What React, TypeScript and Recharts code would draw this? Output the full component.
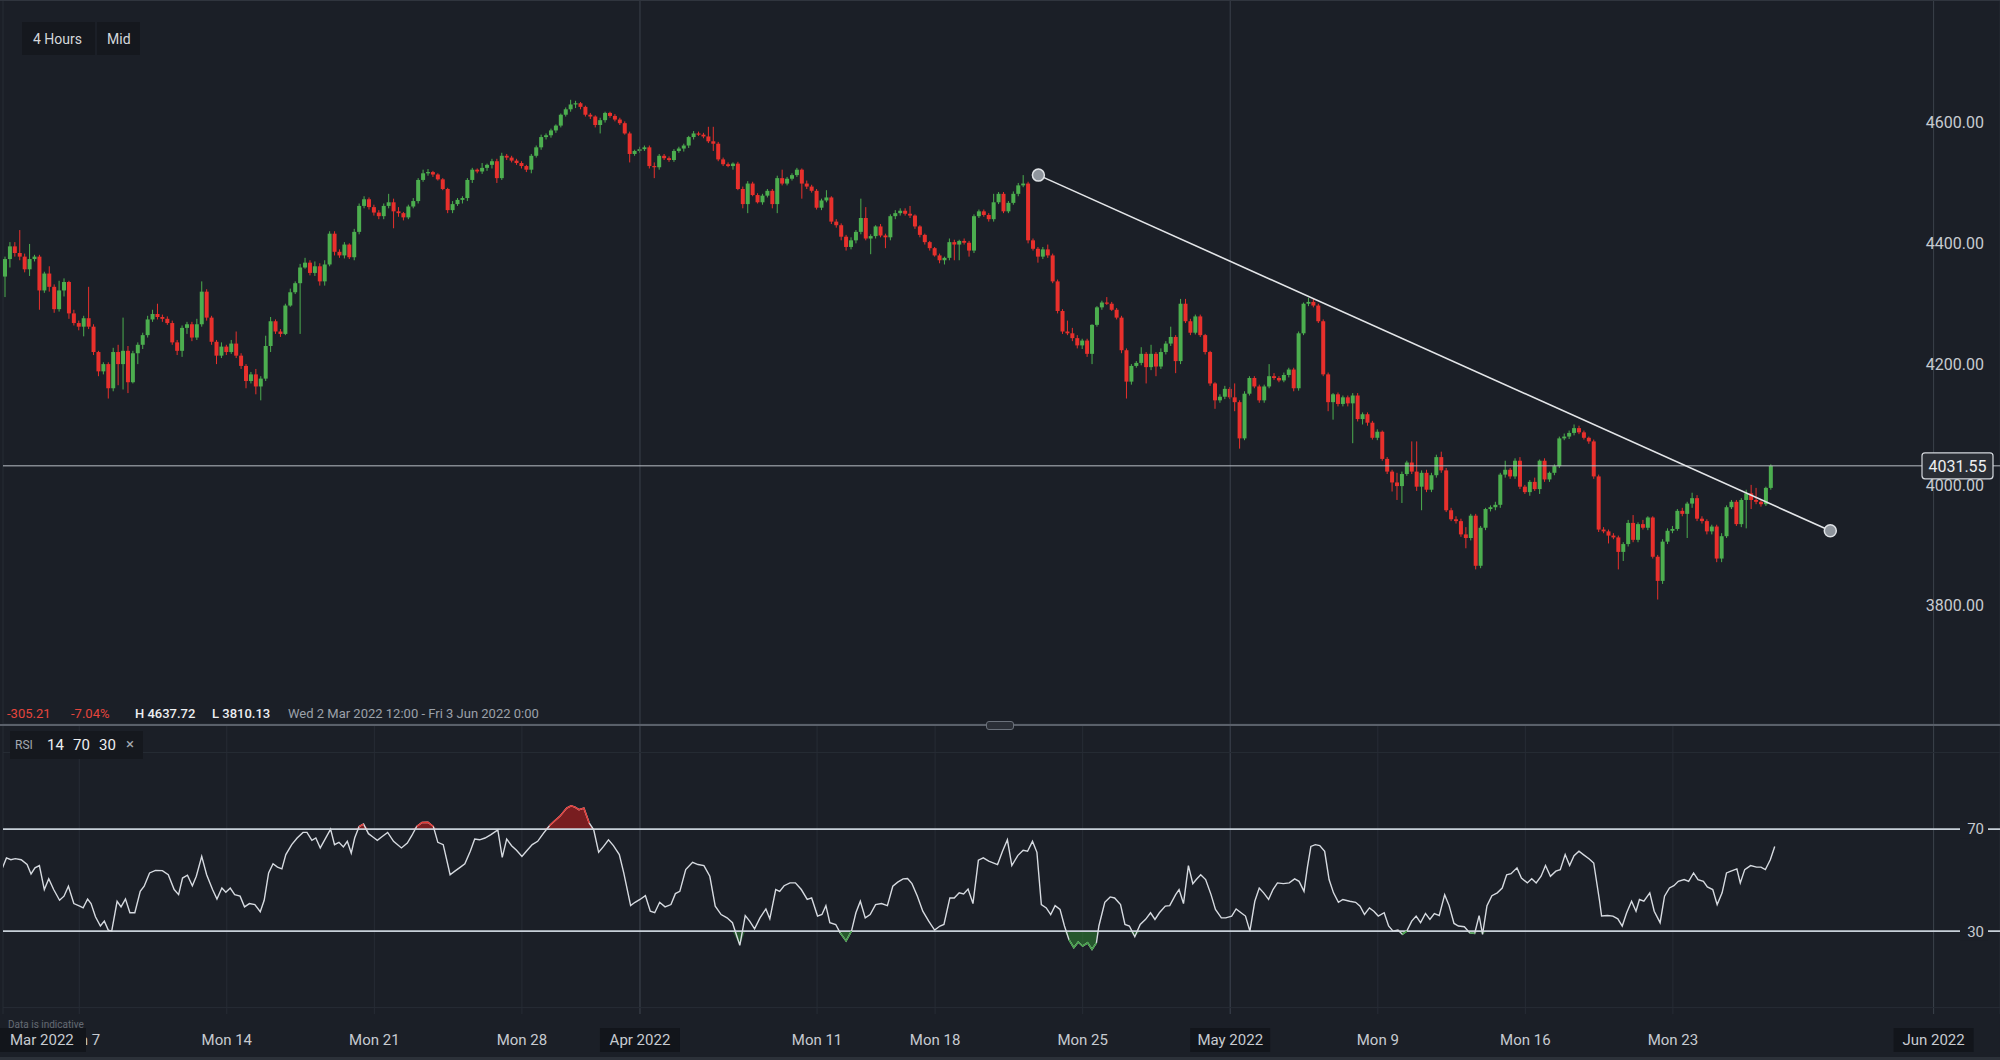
import React from 'react';
import {
  ComposedChart,
  Bar,
  Line,
  Area,
  XAxis,
  YAxis,
  CartesianGrid,
  ReferenceLine,
  ReferenceDot,
} from 'recharts';

const BG = '#1b1f27';
const GRID = '#272c35';
const MONTH_GRID = '#3b414b';
const UP = '#4cae4f';
const DOWN = '#e8302c';
const TEXT = '#c7cbd1';
const FONT = 'Roboto, "Noto Sans", Arial, sans-serif';

// 4 hour candles, [open, high, low, close]
// Wed 2 Mar -> Thu 24 Mar
const marchCandles = [
  [4345, 4378, 4311, 4374], [4374, 4402, 4360, 4395], [4395, 4402, 4378, 4384], [4384, 4422, 4372, 4378], [4378, 4383, 4352, 4357],
  [4357, 4399, 4346, 4374], [4374, 4381, 4370, 4378], [4378, 4381, 4290, 4322], [4322, 4353, 4318, 4350], [4350, 4362, 4320, 4328],
  [4328, 4332, 4285, 4291], [4291, 4338, 4287, 4322], [4322, 4342, 4312, 4336], [4336, 4338, 4275, 4284], [4284, 4290, 4264, 4268],
  [4268, 4272, 4256, 4262], [4262, 4280, 4246, 4276], [4276, 4328, 4258, 4262], [4262, 4266, 4215, 4220], [4220, 4222, 4180, 4188],
  [4188, 4203, 4183, 4200], [4200, 4203, 4143, 4160], [4160, 4227, 4155, 4220], [4220, 4232, 4165, 4200], [4200, 4277, 4158, 4222],
  [4222, 4230, 4152, 4170], [4170, 4222, 4168, 4218], [4218, 4236, 4200, 4232], [4232, 4252, 4225, 4248], [4248, 4280, 4244, 4274],
  [4274, 4290, 4270, 4283], [4283, 4300, 4274, 4278], [4278, 4282, 4270, 4275], [4275, 4279, 4265, 4268], [4268, 4272, 4232, 4236],
  [4236, 4240, 4215, 4222], [4222, 4264, 4212, 4260], [4260, 4270, 4250, 4266], [4266, 4270, 4238, 4244], [4244, 4275, 4240, 4266],
  [4266, 4337, 4262, 4320], [4320, 4324, 4272, 4277], [4277, 4280, 4232, 4237], [4237, 4240, 4200, 4214], [4214, 4236, 4210, 4229],
  [4229, 4232, 4215, 4220], [4220, 4240, 4217, 4234], [4234, 4254, 4210, 4214], [4214, 4218, 4192, 4197], [4197, 4200, 4160, 4172],
  [4172, 4187, 4168, 4183], [4183, 4192, 4150, 4163], [4163, 4180, 4140, 4176], [4176, 4247, 4172, 4230], [4230, 4278, 4220, 4271],
  [4271, 4274, 4250, 4254], [4254, 4258, 4245, 4250], [4250, 4300, 4248, 4297], [4297, 4325, 4295, 4319], [4319, 4337, 4316, 4334],
  [4334, 4366, 4250, 4360], [4360, 4376, 4358, 4368], [4368, 4372, 4347, 4351], [4351, 4370, 4346, 4362], [4362, 4367, 4330, 4337],
  [4337, 4372, 4330, 4365], [4365, 4420, 4362, 4416], [4416, 4420, 4380, 4386], [4386, 4390, 4376, 4380], [4380, 4402, 4375, 4398],
  [4398, 4400, 4374, 4377], [4377, 4424, 4372, 4419], [4419, 4466, 4415, 4462], [4462, 4478, 4458, 4473], [4473, 4476, 4456, 4460],
  [4460, 4464, 4446, 4451], [4451, 4455, 4440, 4445], [4445, 4466, 4440, 4462], [4462, 4482, 4458, 4468], [4468, 4474, 4425, 4453],
  [4453, 4460, 4444, 4450], [4450, 4452, 4438, 4443], [4443, 4464, 4440, 4461], [4461, 4475, 4458, 4470], [4470, 4508, 4466, 4505],
  [4505, 4522, 4502, 4516], [4516, 4523, 4512, 4518], [4518, 4520, 4510, 4514], [4514, 4516, 4504, 4506], [4506, 4508, 4488, 4490],
];

// Thu 24 Mar -> Mon 18 Apr
const aprilCandles = [
  [4490, 4492, 4450, 4455], [4455, 4470, 4450, 4465], [4465, 4475, 4462, 4472], [4472, 4478, 4466, 4475], [4475, 4508, 4470, 4505],
  [4505, 4525, 4500, 4522], [4522, 4524, 4516, 4519], [4519, 4533, 4515, 4525], [4525, 4532, 4520, 4530], [4530, 4540, 4524, 4536],
  [4536, 4540, 4500, 4508], [4508, 4550, 4505, 4545], [4545, 4548, 4538, 4542], [4542, 4545, 4534, 4537], [4537, 4540, 4530, 4533],
  [4533, 4536, 4524, 4528], [4528, 4530, 4518, 4522], [4522, 4548, 4516, 4545], [4545, 4562, 4542, 4559], [4559, 4580, 4555, 4576],
  [4576, 4582, 4572, 4579], [4579, 4590, 4575, 4587], [4587, 4597, 4583, 4595], [4595, 4615, 4592, 4613], [4613, 4625, 4610, 4622],
  [4622, 4637.72, 4618, 4630], [4630, 4636, 4624, 4632], [4632, 4634, 4622, 4626], [4626, 4628, 4610, 4613], [4613, 4616, 4606, 4610],
  [4610, 4612, 4592, 4596], [4596, 4608, 4582, 4604], [4604, 4618, 4600, 4616], [4616, 4618, 4608, 4611], [4611, 4614, 4602, 4605],
  [4605, 4608, 4596, 4599], [4599, 4602, 4580, 4582], [4582, 4585, 4534, 4548], [4548, 4555, 4545, 4553], [4553, 4560, 4550, 4556],
  [4556, 4562, 4553, 4559], [4559, 4562, 4524, 4528], [4528, 4534, 4508, 4526], [4526, 4548, 4522, 4545], [4545, 4548, 4538, 4541],
  [4541, 4544, 4535, 4538], [4538, 4556, 4535, 4553], [4553, 4560, 4550, 4557], [4557, 4565, 4552, 4562], [4562, 4578, 4558, 4576],
  [4576, 4586, 4572, 4582], [4582, 4585, 4578, 4580], [4580, 4583, 4574, 4577], [4577, 4593, 4566, 4569], [4569, 4593, 4553, 4565],
  [4565, 4568, 4536, 4539], [4539, 4542, 4528, 4531], [4531, 4534, 4526, 4528], [4528, 4534, 4522, 4532], [4532, 4535, 4488, 4490],
  [4490, 4494, 4458, 4465], [4465, 4503, 4450, 4499], [4499, 4502, 4478, 4480], [4480, 4483, 4466, 4468], [4468, 4482, 4464, 4479],
  [4479, 4490, 4476, 4487], [4487, 4490, 4458, 4465], [4465, 4512, 4450, 4508], [4508, 4522, 4496, 4499], [4499, 4510, 4496, 4507],
  [4507, 4516, 4504, 4513], [4513, 4525, 4510, 4522], [4522, 4524, 4474, 4499], [4499, 4504, 4490, 4494], [4494, 4497, 4484, 4487],
  [4487, 4490, 4456, 4459], [4459, 4474, 4455, 4471], [4471, 4488, 4468, 4476], [4476, 4478, 4432, 4436], [4436, 4440, 4426, 4430],
  [4430, 4433, 4405, 4411], [4411, 4414, 4388, 4394], [4394, 4410, 4390, 4405], [4405, 4422, 4400, 4419], [4419, 4474, 4415, 4442],
  [4442, 4460, 4405, 4408], [4408, 4415, 4382, 4412], [4412, 4430, 4408, 4428], [4428, 4432, 4410, 4413], [4413, 4416, 4392, 4410],
  [4410, 4448, 4405, 4445],
];

// Mon 18 Apr -> Mon 9 May
const aprMayCandles = [
  [4445, 4455, 4440, 4450], [4450, 4458, 4446, 4454], [4454, 4458, 4446, 4449], [4449, 4462, 4442, 4446], [4446, 4448, 4424, 4428],
  [4428, 4430, 4410, 4414], [4414, 4416, 4398, 4402], [4402, 4404, 4388, 4392], [4392, 4394, 4378, 4380], [4380, 4383, 4367, 4372],
  [4372, 4378, 4365, 4376], [4376, 4408, 4372, 4402], [4402, 4406, 4372, 4398], [4398, 4406, 4372, 4404], [4404, 4408, 4398, 4401],
  [4401, 4404, 4378, 4388], [4388, 4448, 4384, 4445], [4445, 4456, 4442, 4453], [4453, 4456, 4444, 4447], [4447, 4450, 4436, 4440],
  [4440, 4482, 4436, 4468], [4468, 4485, 4465, 4482], [4482, 4485, 4450, 4453], [4453, 4470, 4450, 4467], [4467, 4486, 4464, 4482],
  [4482, 4500, 4478, 4496], [4496, 4513, 4493, 4499], [4499, 4502, 4400, 4405], [4405, 4408, 4388, 4391], [4391, 4394, 4368, 4378],
  [4378, 4394, 4374, 4390], [4390, 4398, 4376, 4380], [4380, 4383, 4334, 4337], [4337, 4340, 4284, 4288], [4288, 4291, 4250, 4254],
  [4254, 4272, 4248, 4251], [4251, 4260, 4238, 4243], [4243, 4248, 4226, 4231], [4231, 4242, 4225, 4239], [4239, 4242, 4212, 4217],
  [4217, 4266, 4200, 4265], [4265, 4296, 4262, 4294], [4294, 4305, 4290, 4302], [4302, 4311, 4298, 4300], [4300, 4303, 4288, 4290],
  [4290, 4293, 4274, 4277], [4277, 4280, 4218, 4223], [4223, 4226, 4143, 4171], [4171, 4200, 4166, 4197], [4197, 4205, 4194, 4202],
  [4202, 4228, 4198, 4217], [4217, 4220, 4168, 4195], [4195, 4232, 4190, 4217], [4217, 4220, 4180, 4196], [4196, 4226, 4192, 4220],
  [4220, 4238, 4216, 4234], [4234, 4262, 4230, 4245], [4245, 4248, 4185, 4205], [4205, 4308, 4200, 4300], [4300, 4308, 4268, 4271],
  [4271, 4275, 4248, 4252], [4252, 4282, 4249, 4279], [4279, 4282, 4245, 4248], [4248, 4250, 4216, 4220], [4220, 4222, 4164, 4168],
  [4168, 4170, 4126, 4140], [4140, 4150, 4136, 4146], [4146, 4164, 4142, 4159], [4159, 4162, 4142, 4145], [4145, 4168, 4122, 4137],
  [4137, 4140, 4060, 4077], [4077, 4155, 4074, 4151], [4151, 4180, 4148, 4177], [4177, 4180, 4160, 4163], [4163, 4166, 4136, 4140],
  [4140, 4166, 4136, 4163], [4163, 4200, 4160, 4180], [4180, 4185, 4174, 4177], [4177, 4180, 4170, 4173], [4173, 4186, 4170, 4182],
  [4182, 4194, 4178, 4191], [4191, 4194, 4155, 4160], [4160, 4254, 4156, 4251], [4251, 4302, 4248, 4300], [4300, 4310, 4296, 4303],
  [4303, 4308, 4294, 4297], [4297, 4300, 4268, 4271], [4271, 4274, 4180, 4183], [4183, 4186, 4122, 4137], [4137, 4152, 4108, 4150],
  [4150, 4153, 4130, 4134],
];

// Mon 9 May -> Thu 26 May
const mayCandles = [
  [4134, 4148, 4130, 4145], [4145, 4148, 4130, 4135], [4135, 4152, 4069, 4148], [4148, 4152, 4105, 4109], [4109, 4120, 4100, 4117],
  [4117, 4120, 4098, 4103], [4103, 4106, 4075, 4078], [4078, 4092, 4074, 4088], [4088, 4090, 4040, 4043], [4043, 4046, 4018, 4022],
  [4022, 4025, 3989, 4004], [4004, 4020, 3975, 3998], [3998, 4022, 3970, 4018], [4018, 4040, 4015, 4037], [4037, 4072, 4018, 4022],
  [4022, 4072, 3990, 3997], [3997, 4024, 3958, 4020], [4020, 4025, 3988, 3992], [3992, 4020, 3988, 4016], [4016, 4050, 4012, 4046],
  [4046, 4055, 4020, 4024], [4024, 4028, 3955, 3958], [3958, 3962, 3940, 3943], [3943, 3948, 3936, 3940], [3940, 3944, 3914, 3918],
  [3918, 3930, 3895, 3912], [3912, 3952, 3908, 3949], [3949, 3952, 3860, 3866], [3866, 3932, 3862, 3929], [3929, 3962, 3925, 3960],
  [3960, 3966, 3956, 3963], [3963, 3972, 3958, 3967], [3967, 4020, 3962, 4017], [4017, 4040, 4012, 4025], [4025, 4028, 4010, 4014],
  [4014, 4044, 4010, 4040], [4040, 4046, 3993, 3997], [3997, 4000, 3985, 3988], [3988, 4008, 3982, 4005], [4005, 4012, 3990, 3993],
  [3993, 4042, 3985, 4040], [4040, 4044, 4005, 4009], [4009, 4022, 4005, 4020], [4020, 4034, 4016, 4031], [4031, 4080, 4028, 4077],
  [4077, 4085, 4074, 4080], [4080, 4090, 4076, 4086], [4086, 4100, 4082, 4094], [4094, 4098, 4084, 4087], [4087, 4090, 4075, 4078],
  [4078, 4080, 4068, 4072], [4072, 4075, 4010, 4014], [4014, 4017, 3922, 3926], [3926, 3930, 3920, 3923], [3923, 3926, 3903, 3916],
  [3916, 3920, 3910, 3913], [3913, 3916, 3860, 3889], [3889, 3905, 3874, 3902], [3902, 3942, 3898, 3937], [3937, 3950, 3905, 3909],
  [3909, 3938, 3905, 3935], [3935, 3942, 3926, 3929], [3929, 3948, 3925, 3946], [3946, 3948, 3878, 3881], [3881, 3884, 3810.13, 3841],
  [3841, 3910, 3836, 3906], [3906, 3928, 3902, 3924], [3924, 3932, 3920, 3927], [3927, 3960, 3924, 3957], [3957, 3962, 3948, 3952],
  [3952, 3972, 3912, 3969], [3969, 3987, 3962, 3978], [3978, 3983, 3940, 3944], [3944, 3948, 3936, 3940], [3940, 3943, 3918, 3923],
  [3923, 3934, 3918, 3931], [3931, 3934, 3872, 3878], [3878, 3920, 3872, 3915], [3915, 3966, 3912, 3963], [3963, 3975, 3960, 3972],
  [3972, 3975, 3932, 3935], [3935, 3978, 3930, 3975], [3975, 3992, 3928, 3986], [3986, 4000, 3960, 3975], [3975, 3995, 3968, 3972],
  [3972, 3976, 3964, 3968], [3968, 3997, 3965, 3995], [3995, 4034, 3992, 4031.55],
];

// RSI(14), [bar position, value]
const rsiMarApr = [
  [-0.6, 54.8], [0.2, 58.7], [1.1, 58.0], [2.0, 58.4], [3.2, 58.0], [4.4, 56.1], [5.2, 52.4], [6.0, 54.8], [6.9, 55.7], [7.9, 46.3],
  [8.8, 50.5], [9.8, 46.3], [11.0, 42.1], [11.9, 43.7], [12.8, 47.6], [13.9, 40.8], [15.1, 39.8], [15.8, 39.1], [16.7, 42.6], [17.4, 40.8],
  [18.3, 35.6], [19.3, 32.0], [20.1, 33.9], [20.9, 30.4], [21.6, 30.0], [22.7, 41.7], [23.5, 39.5], [24.4, 42.6], [25.3, 37.2], [26.3, 37.2],
  [27.4, 45.6], [28.2, 47.6], [29.3, 52.8], [30.5, 53.8], [31.9, 53.7], [33.1, 52.1], [34.3, 46.3], [35.2, 44.3], [36.0, 50.8], [37.0, 51.9],
  [38.0, 47.8], [38.8, 51.5], [39.9, 59.3], [40.9, 52.1], [42.1, 46.3], [43.0, 42.6], [44.0, 46.9], [44.8, 45.2], [45.7, 46.9], [46.6, 44.3],
  [47.7, 43.7], [48.6, 39.5], [49.6, 40.8], [50.7, 40.4], [51.8, 37.6], [52.6, 42.1], [53.5, 52.8], [54.4, 56.4], [55.3, 55.1], [56.2, 54.4],
  [57.0, 60.0], [58.2, 63.9], [59.3, 66.5], [60.5, 68.7], [61.3, 68.7], [62.3, 65.6], [63.1, 66.5], [64.0, 62.6], [64.9, 65.8], [66.1, 70.0],
  [66.9, 63.9], [67.8, 64.8], [68.7, 63.0], [69.5, 65.2], [70.3, 60.6], [71.0, 66.5], [71.9, 71.0], [72.8, 72.0], [73.8, 68.2], [74.7, 66.9],
  [75.6, 65.6], [76.6, 67.1], [77.7, 68.7], [78.9, 65.2], [80.5, 62.6], [81.7, 64.5], [82.6, 67.4], [83.6, 71.0], [84.7, 72.6], [85.9, 72.7],
  [87.0, 71.0], [87.9, 64.8], [89.0, 63.9], [90.4, 52.1], [91.3, 53.4], [92.5, 55.1], [93.4, 56.4], [94.5, 61.3], [95.4, 66.1], [96.4, 65.8],
  [97.5, 66.5], [98.7, 67.8], [100.1, 69.7], [101.0, 58.9], [101.9, 66.1], [102.9, 63.5], [103.9, 61.7], [105.0, 59.3], [105.9, 61.3], [107.1, 63.9],
  [108.2, 65.2], [109.4, 68.4], [110.6, 71.3], [111.5, 73.0], [112.7, 75.0], [114.1, 78.2], [115.0, 79.1], [115.8, 78.6], [116.6, 77.6], [117.6, 78.2],
  [118.7, 72.3], [119.6, 69.7], [120.6, 60.9], [121.6, 63.2], [122.6, 65.8], [123.6, 63.5], [124.8, 60.0], [125.7, 52.8], [127.1, 40.0], [128.0, 41.3],
  [129.0, 42.4], [130.1, 43.9], [131.1, 37.8], [132.0, 37.2], [133.0, 41.3], [134.1, 39.5], [135.3, 40.4], [136.2, 44.7], [137.1, 45.6], [138.3, 54.1],
  [139.7, 57.0], [140.8, 56.1], [142.0, 55.7], [143.2, 51.5], [144.3, 39.8], [145.5, 36.5], [146.7, 35.2], [147.8, 33.3], [149.3, 24.4], [150.4, 36.1],
  [151.3, 33.9], [152.3, 30.9], [153.4, 35.2], [154.6, 38.7], [155.4, 34.8], [156.6, 46.3], [157.4, 45.6], [158.3, 47.8], [159.5, 48.9], [160.6, 48.9],
  [161.8, 46.3], [163.0, 42.4], [163.9, 43.0], [165.1, 35.9], [166.0, 36.5], [166.8, 40.0], [167.6, 33.3], [168.8, 32.6], [169.7, 29.3], [170.9, 26.1],
  [172.0, 30.0], [172.9, 37.2], [173.8, 41.7], [174.8, 35.2], [175.8, 36.5], [176.9, 40.4], [178.1, 40.8], [179.3, 40.0], [180.4, 47.6], [181.4, 49.2],
];

const rsiAprMay = [
  [182.5, 50.5], [183.4, 50.6], [184.3, 48.6], [185.4, 43.7], [186.5, 37.8], [187.7, 33.9], [188.9, 30.4], [190.0, 32.0], [190.8, 32.6], [192.0, 43.0],
  [192.9, 43.0], [193.9, 45.0], [194.8, 44.6], [195.7, 46.5], [196.7, 40.8], [197.8, 57.8], [198.8, 58.7], [199.9, 57.4], [201.7, 56.1], [202.7, 61.3],
  [203.7, 65.8], [204.6, 55.7], [205.8, 59.6], [206.9, 61.7], [207.8, 61.3], [208.8, 65.2], [209.7, 60.9], [210.6, 40.4], [211.6, 39.1], [212.5, 36.5],
  [213.4, 40.0], [214.4, 38.5], [215.3, 32.0], [216.2, 26.7], [217.2, 23.5], [218.1, 25.7], [219.0, 24.1], [220.0, 25.4], [220.9, 22.8], [221.8, 25.4],
  [222.3, 32.0], [223.5, 41.3], [224.6, 43.4], [225.5, 43.0], [226.7, 40.4], [227.6, 32.6], [228.5, 32.0], [229.6, 27.8], [230.7, 32.6], [231.8, 34.6],
  [232.8, 37.2], [233.7, 34.6], [234.6, 37.2], [235.8, 39.8], [236.7, 40.0], [237.9, 44.3], [238.6, 46.3], [239.5, 40.8], [240.5, 55.7], [241.4, 48.6],
  [242.1, 50.2], [243.0, 52.1], [244.0, 50.2], [245.1, 44.3], [246.0, 38.5], [247.2, 35.2], [248.1, 35.2], [249.3, 35.9], [250.2, 38.7], [251.2, 37.2],
  [252.1, 35.9], [253.0, 30.0], [254.0, 41.7], [254.9, 46.9], [255.8, 45.0], [256.8, 42.4], [257.7, 46.3], [258.6, 48.9], [259.8, 48.6], [261.0, 48.9],
  [262.1, 50.5], [263.0, 49.5], [264.0, 45.6], [264.7, 55.1], [265.4, 63.2], [266.3, 63.9], [267.2, 63.5], [268.2, 61.3], [269.1, 50.2], [270.0, 45.0],
  [271.0, 41.3], [271.9, 42.4], [273.3, 41.7], [274.5, 41.3], [275.4, 39.8], [276.3, 36.5], [277.3, 39.1], [278.2, 37.8], [279.1, 35.9], [280.3, 37.2],
  [281.2, 32.0], [282.1, 30.0], [283.1, 30.4], [284.0, 28.7], [284.9, 30.0], [285.9, 33.9], [286.8, 35.9], [287.7, 33.3], [288.7, 36.9], [289.6, 34.6],
  [290.5, 36.9], [291.5, 36.1], [292.6, 44.3], [293.5, 40.0], [294.5, 33.0], [295.4, 32.0], [296.6, 31.7], [297.7, 29.3], [298.7, 29.1], [299.6, 36.1],
  [300.3, 28.7], [301.2, 40.0], [302.2, 43.9], [303.3, 45.0], [304.3, 46.9], [305.2, 52.1], [306.1, 52.5], [307.3, 54.8], [308.2, 50.8], [309.4, 48.9],
  [310.3, 50.5], [311.2, 48.9], [312.2, 51.5], [313.1, 55.7], [314.1, 51.5], [315.2, 53.5], [316.1, 54.1], [317.1, 60.0], [318.0, 55.7], [318.9, 59.6],
  [319.9, 61.3], [320.8, 60.0], [322.0, 58.3], [322.9, 56.7], [324.1, 41.7], [324.5, 35.9], [325.7, 36.1], [326.8, 35.9], [327.8, 34.8], [328.7, 32.0],
  [329.6, 37.2], [330.6, 41.7], [331.5, 37.8], [332.2, 42.4], [333.1, 41.7], [334.3, 45.0], [335.2, 37.8], [336.4, 33.3], [337.3, 43.7], [338.3, 46.9],
  [339.2, 47.8], [340.1, 49.5], [341.3, 50.2], [342.2, 49.5], [343.2, 52.8], [344.1, 50.2], [345.2, 49.5], [346.0, 47.3], [347.1, 46.3], [348.0, 40.4],
  [349.0, 45.0], [349.9, 52.8], [350.8, 53.5], [352.0, 54.4], [352.7, 48.9], [353.6, 54.1], [354.8, 55.7], [356.0, 55.1], [356.9, 55.1], [357.8, 54.1],
  [358.8, 58.0], [359.7, 63.2],
];

// bar slots on the time axis (candles + empty space up to Fri 3 Jun)
const SLOT_COUNT = 406;
const weekTicks = [15, 45, 75, 105, 129, 165, 189, 219, 249, 279, 309, 339, 392];
const weekLabels = ['Mon 7', 'Mon 14', 'Mon 21', 'Mon 28', 'Apr 2022', 'Mon 11', 'Mon 18', 'Mon 25', 'May 2022', 'Mon 9', 'Mon 16', 'Mon 23', 'Jun 2022'];
const monthTicks = [129, 249, 392];
const priceTicks = [3800, 4000, 4200, 4400, 4600];
const lastPrice = 4031.55;
const trendFrom = { bar: 210, price: 4513 };
const trendTo = { bar: 371, price: 3924 };

const candles = [...marchCandles, ...aprilCandles, ...aprMayCandles, ...mayCandles];
const priceData = Array.from({ length: SLOT_COUNT }, (_, i) => {
  const k = candles[i];
  return k ? { i, o: k[0], h: k[1], l: k[2], c: k[3], range: [k[2], k[1]] } : { i };
});

const rsiData = [...rsiMarApr, ...rsiAprMay].map(([x, v]) => ({
  x,
  v,
  hot: [70, Math.max(70, v)],
  cold: [Math.min(30, v), 30],
  hotLine: v >= 70 ? v : null,
  coldLine: v <= 30 ? v : null,
}));

function Candle(props: any) {
  const { x, y, width, height, payload } = props;
  if (!payload || payload.o == null) return null;
  const { o, h, l, c } = payload;
  const color = c >= o ? UP : DOWN;
  const top = Math.min(y, y + height);
  const hgt = Math.abs(height);
  const span = h - l || 1;
  const py = (v: number) => top + ((h - v) / span) * hgt;
  const bTop = py(Math.max(o, c));
  const bBot = py(Math.min(o, c));
  const cx = x + width / 2;
  return (
    <g>
      <line x1={cx} x2={cx} y1={top} y2={top + hgt} stroke={color} strokeWidth={1} />
      <rect x={x} y={bTop} width={width} height={Math.max(bBot - bTop, 1)} fill={color} />
    </g>
  );
}

function PriceTag(props: any) {
  const vb = props.viewBox;
  if (!vb) return null;
  const right = vb.x + vb.width;
  return (
    <g>
      <rect x={right - 78} y={vb.y - 13} width={71} height={26} rx={3} fill="#2a2e35" stroke="#d4d8dd" strokeWidth={1.2} />
      <text x={right - 42.5} y={vb.y} dy="0.36em" textAnchor="middle" fill="#eceef1" fontSize={16} fontFamily={FONT}>
        {lastPrice.toFixed(2)}
      </text>
    </g>
  );
}

// price scale label drawn at the right edge of a horizontal reference line
function priceLabel(value: number) {
  return (props: any) => {
    const vb = props.viewBox;
    if (!vb) return null;
    return (
      <text x={vb.x + vb.width - 16} y={vb.y} dy="0.36em" textAnchor="end" fill={TEXT} fontSize={16} fontFamily={FONT}>
        {value.toFixed(2)}
      </text>
    );
  };
}

function rsiTag(level: number) {
  return (props: any) => {
    const vb = props.viewBox;
    if (!vb) return null;
    const right = vb.x + vb.width;
    return (
      <g>
        <rect x={right - 40} y={vb.y - 9} width={28} height={18} fill={BG} />
        <text x={right - 16} y={vb.y} dy="0.36em" textAnchor="end" fill={TEXT} fontSize={15} fontFamily={FONT}>
          {level}
        </text>
      </g>
    );
  };
}

function TimeTick(props: any) {
  const { x, y, payload } = props;
  const label = weekLabels[weekTicks.indexOf(payload.value)];
  if (!label) return null;
  const isMonth = label.endsWith('2022');
  return (
    <g>
      {isMonth && <rect x={x - 40} y={y + 14} width={80} height={24} fill="#12151b" />}
      <text x={x} y={y + 26} dy="0.36em" textAnchor="middle" fill={TEXT} fontSize={15} fontFamily={FONT}>
        {label}
      </text>
    </g>
  );
}

const abs = (s: React.CSSProperties): React.CSSProperties => ({ position: 'absolute', ...s });

export default function App() {
  return (
    <div
      style={{
        position: 'fixed',
        left: 0,
        top: 0,
        width: 2000,
        height: 1060,
        background: BG,
        fontFamily: FONT,
        overflow: 'hidden',
      }}
    >
      <div style={abs({ left: 0, top: 0 })}>
        <ComposedChart
          width={2000}
          height={724}
          data={priceData}
          margin={{ top: 0, right: 0, bottom: 0, left: 3 }}
        >
          <CartesianGrid stroke={GRID} strokeWidth={1} />
          <XAxis
            dataKey="i"
            type="category"
            ticks={weekTicks}
            interval={0}
            height={0}
            tick={false}
            axisLine={false}
            tickLine={false}
          />
          <YAxis
            orientation="right"
            mirror
            width={0}
            domain={[3604, 4803]}
            allowDataOverflow
            ticks={priceTicks}
            interval={0}
            tick={false}
            axisLine={false}
            tickLine={false}
            tickSize={0}
          />
          {monthTicks.map((t) => (
            <ReferenceLine key={t} x={t} stroke={MONTH_GRID} strokeWidth={1} />
          ))}
          {priceTicks.map((t) => (
            <ReferenceLine key={`p${t}`} y={t} stroke="none" label={priceLabel(t)} />
          ))}
          <ReferenceLine y={lastPrice} stroke="#b9bec5" strokeWidth={1} label={(p: any) => <PriceTag {...p} />} />
          <Bar dataKey="range" barSize={4} shape={Candle} isAnimationActive={false} />
          <ReferenceLine
            segment={[
              { x: trendFrom.bar, y: trendFrom.price },
              { x: trendTo.bar, y: trendTo.price },
            ]}
            stroke="#e3e5e8"
            strokeWidth={1.6}
          />
          <ReferenceDot x={trendFrom.bar} y={trendFrom.price} r={6} fill="#8f959d" stroke="#dfe2e6" strokeWidth={1.5} />
          <ReferenceDot x={trendTo.bar} y={trendTo.price} r={6} fill="#8f959d" stroke="#dfe2e6" strokeWidth={1.5} />
        </ComposedChart>
      </div>

      <div style={abs({ left: 0, top: 724 })}>
        <ComposedChart
          width={2000}
          height={336}
          data={rsiData}
          margin={{ top: 0, right: 0, bottom: 0, left: 3 }}
        >
          <CartesianGrid stroke={GRID} horizontal={false} />
          <XAxis
            dataKey="x"
            type="number"
            domain={[-0.5, SLOT_COUNT - 0.5]}
            allowDataOverflow
            ticks={weekTicks}
            interval={0}
            height={46}
            axisLine={false}
            tickLine={false}
            tickSize={0}
            tickMargin={0}
            tick={<TimeTick />}
          />
          <YAxis hide domain={[-2.5, 111.2]} allowDataOverflow />
          {monthTicks.map((t) => (
            <ReferenceLine key={t} x={t} stroke={MONTH_GRID} strokeWidth={1} />
          ))}
          <ReferenceLine y={100} stroke={GRID} />
          <ReferenceLine y={0} stroke={GRID} />
          <Area dataKey="hot" type="linear" stroke="none" fill="#b71c1c" fillOpacity={0.6} isAnimationActive={false} />
          <Area dataKey="cold" type="linear" stroke="none" fill="#2e7d32" fillOpacity={0.6} isAnimationActive={false} />
          <ReferenceLine y={70} stroke="#c8d0d9" strokeWidth={1.6} label={rsiTag(70)} />
          <ReferenceLine y={30} stroke="#c8d0d9" strokeWidth={1.6} label={rsiTag(30)} />
          <Line dataKey="v" type="linear" stroke="#d6dae0" strokeWidth={1.4} dot={false} isAnimationActive={false} />
          <Line dataKey="hotLine" type="linear" stroke="#e53935" strokeWidth={1.4} dot={false} connectNulls={false} isAnimationActive={false} />
          <Line dataKey="coldLine" type="linear" stroke="#43a047" strokeWidth={1.4} dot={false} connectNulls={false} isAnimationActive={false} />
        </ComposedChart>
      </div>

      {/* frame */}
      <div style={abs({ left: 0, top: 0, width: 2000, height: 1, background: '#30353e' })} />
      <div style={abs({ left: 0, top: 724, width: 2000, height: 1.5, background: '#5a606a' })} />
      <div
        style={abs({
          left: 986,
          top: 721,
          width: 28,
          height: 9,
          borderRadius: 3,
          background: '#2b2f37',
          border: '1px solid #6b717b',
          boxSizing: 'border-box',
        })}
      />
      <div style={abs({ left: 0, top: 1057, width: 2000, height: 3, background: '#2c3139' })} />

      {/* timeframe buttons */}
      <div style={abs({ left: 22, top: 22, width: 73, height: 33, background: '#15181e' })} />
      <div style={abs({ left: 97, top: 22, width: 43, height: 33, background: '#15181e' })} />
      <div style={abs({ left: 33, top: 31, fontSize: 14, color: '#d5d8dc', lineHeight: '16px' })}>4 Hours</div>
      <div style={abs({ left: 107, top: 31, fontSize: 14, color: '#d5d8dc', lineHeight: '16px' })}>Mid</div>

      {/* range summary */}
      <div style={abs({ left: 7, top: 706, fontSize: 13, lineHeight: '16px', color: '#e5453d' })}>-305.21</div>
      <div style={abs({ left: 71, top: 706, fontSize: 13, lineHeight: '16px', color: '#e5453d' })}>-7.04%</div>
      <div style={abs({ left: 135, top: 706, fontSize: 13, lineHeight: '16px', color: '#eceef1', fontWeight: 500 })}>H 4637.72</div>
      <div style={abs({ left: 212, top: 706, fontSize: 13, lineHeight: '16px', color: '#eceef1', fontWeight: 500 })}>L 3810.13</div>
      <div style={abs({ left: 288, top: 706, fontSize: 13, lineHeight: '16px', color: '#9ba1a9' })}>
        Wed 2 Mar 2022 12:00 - Fri 3 Jun 2022 0:00
      </div>

      {/* RSI legend */}
      <div style={abs({ left: 10, top: 731, width: 133, height: 28, background: '#15181e' })} />
      <div style={abs({ left: 15, top: 737, fontSize: 12, lineHeight: '16px', color: '#a3a9b1' })}>RSI</div>
      <div style={abs({ left: 47, top: 736, fontSize: 15, lineHeight: '18px', color: '#eceef1' })}>14</div>
      <div style={abs({ left: 73, top: 736, fontSize: 15, lineHeight: '18px', color: '#eceef1' })}>70</div>
      <div style={abs({ left: 99, top: 736, fontSize: 15, lineHeight: '18px', color: '#eceef1' })}>30</div>
      <div style={abs({ left: 126, top: 735, fontSize: 15, lineHeight: '18px', color: '#a3a9b1' })}>×</div>

      {/* sticky month label and footnote */}
      <div style={abs({ left: 0, top: 1028, width: 86, height: 24, background: '#12151b' })} />
      <div style={abs({ left: 10, top: 1031, fontSize: 15, lineHeight: '18px', color: TEXT })}>Mar 2022</div>
      <div style={abs({ left: 8, top: 1019, fontSize: 10, lineHeight: '12px', color: '#646a73' })}>Data is indicative</div>
    </div>
  );
}
